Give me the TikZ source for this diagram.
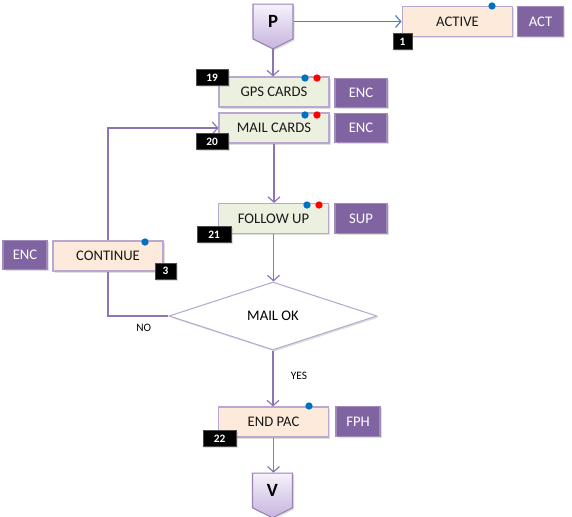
\documentclass[tikz,border=0pt]{standalone}
\usepackage{fontspec}
\setmainfont{Carlito}
\usetikzlibrary{arrows.meta,shapes.geometric,shapes.symbols,shadows}
\definecolor{lilac}{HTML}{8064A2}
\definecolor{lineviolet}{HTML}{8C75B5}
\definecolor{edgeviolet}{HTML}{B9A9D0}
\definecolor{peach}{HTML}{FDEADA}
\definecolor{sage}{HTML}{EBF1DE}
\definecolor{steel}{HTML}{4F81BD}
\definecolor{dotblue}{HTML}{0070C0}
\definecolor{lavtop}{HTML}{F6F2FB}
\definecolor{lavbot}{HTML}{C6B4DE}
\pgfdeclarelayer{back}
\pgfsetlayers{back,main}
\tikzset{
  softshadow/.style = {drop shadow={shadow xshift=1.2pt, shadow yshift=-1.2pt, opacity=0.25}},
  task/.style = {draw=edgeviolet, line width=0.8pt, minimum width=#1, minimum height=22.5pt,
    inner sep=0pt, text=black!90, font=\fontsize{11}{13}\selectfont, softshadow},
  tag/.style = {fill=lilac, draw=lilac!75, line width=0.8pt, minimum width=#1, minimum height=22pt,
    inner sep=0pt, text=white, font=\fontsize{11}{13}\selectfont, softshadow},
  badge/.style = {fill=black, draw=black!70, minimum width=#1, minimum height=12pt, inner sep=0pt,
    text=white, font=\fontsize{8.5}{10}\bfseries, softshadow},
  dot/.style = {circle, inner sep=0pt, minimum size=5.5pt},
  endcap/.style = {signal, signal to=south, signal from=nowhere, signal pointer angle=127,
    minimum width=30pt, minimum height=28pt, inner sep=0pt, draw=lilac!80, line width=0.8pt,
    top color=lavtop, bottom color=lavbot, font=\fontsize{14}{16}\bfseries, softshadow},
  check/.style = {diamond, draw=edgeviolet, line width=0.8pt, fill=white, minimum width=156pt,
    minimum height=51pt, inner sep=0pt, font=\fontsize{11}{13}\selectfont, softshadow},
  note/.style = {font=\fontsize{8.5}{10}\selectfont, inner sep=1pt},
  flow/.style = {draw=lineviolet, line width=0.9pt, -{Straight Barb[length=4pt,width=9pt]}}
}

\begin{document}
\begin{tikzpicture}[x=0.75pt,y=-0.75pt]
\useasboundingbox (0,0) rectangle (572,517);

\node[endcap] (P) at (273,21.5) {P};
\node[task=83pt, fill=peach] (active) at (457.5,21.5) {ACTIVE};
\node[tag=34pt] (act) at (540.5,21.5) {ACT};
\node[task=82.5pt, fill=sage] (gps) at (274,92) {GPS CARDS};
\node[tag=39pt] (enc1) at (361,93) {ENC};
\node[task=82.5pt, fill=sage] (mail) at (274,128) {MAIL CARDS};
\node[tag=39pt] (enc2) at (361,128) {ENC};
\node[task=83pt, fill=sage] (follow) at (273.5,218.5) {FOLLOW UP};
\node[tag=39pt] (sup) at (361,218.5) {SUP};
\node[task=82.5pt, fill=peach] (cont) at (108,256) {CONTINUE};
\node[tag=33pt] (enc3) at (25,255) {ENC};
\node[check] (ok) at (273,316) {MAIL OK};
\node[task=83pt, fill=peach] (endpac) at (273.5,422) {END PAC};
\node[tag=33pt] (fph) at (358,421.5) {FPH};
\node[endcap] (V) at (272.5,490.5) {V};

\node[badge=14pt] (n1) at (402.5,41.5) {1};
\node[badge=24pt] (n19) at (212,77.5) {19};
\node[badge=24pt] (n20) at (212,141.5) {20};
\node[badge=25.5pt] (n21) at (214,234.5) {21};
\node[badge=16pt] (n3) at (165.5,271) {3};
\node[badge=25pt] (n22) at (219.5,438.5) {22};

\foreach \x/\y/\c [count=\i] in {492/6/dotblue, 305/78/dotblue, 317/78/red, 305/115/dotblue,
    317/115/red, 307/205/dotblue, 319/205/red, 145/242/dotblue, 309/406/dotblue}
  \node[dot, fill=\c] (d\i) at (\x,\y) {};

\draw[flow, draw=steel] (P.east) -- (active.west);
\draw[flow] (P.south) -- (P.south |- gps.north);
\draw[flow] (mail.south) -- (mail.south |- follow.north);
\draw[flow] (follow.south) -- (follow.south |- ok.north);
\draw[flow] (ok.south) -- node[note, pos=0.45, right=12pt] {YES} (ok.south |- endpac.north);
\draw[flow] (endpac.south) -- (endpac.south |- V.north);
\begin{pgfonlayer}{back}
\draw[flow] (ok.west) -- node[note, pos=0.41, below=5pt] {NO} (cont.center |- ok.west)
  -- (cont.center |- mail.west) -- (mail.west);
\end{pgfonlayer}

\end{tikzpicture}
\end{document}
